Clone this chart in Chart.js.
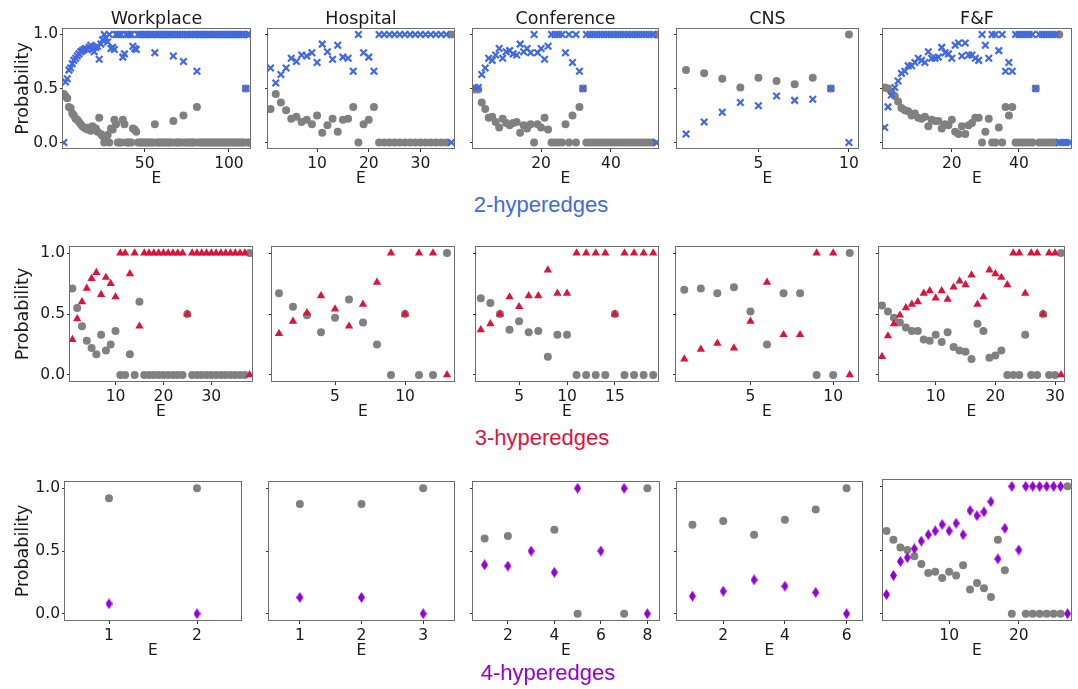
<!DOCTYPE html>
<html><head><meta charset="utf-8">
<script src="https://cdn.jsdelivr.net/npm/chart.js@4.4.1/dist/chart.umd.min.js"></script>
<style>
html,body{margin:0;padding:0;background:#fff;}
body{position:relative;width:1078px;height:689px;overflow:hidden;}
canvas{position:absolute;}
.t{position:absolute;white-space:nowrap;text-align:center;width:300px;}
.col{font-family:"DejaVu Sans";font-size:17.5px;line-height:20px;color:#1a1a1a;}
.rowl{font-family:"Liberation Sans";font-size:22px;line-height:24px;}
</style></head><body>
<script>
// ---------- titles ----------
const columnTitles = ["Workplace", "Hospital", "Conference", "CNS", "F&F"];
const rowTitles = ["2-hyperedges", "3-hyperedges", "4-hyperedges"];
const rowColors = ["#4169E1", "#DC143C", "#9400D3"];
const yTicks = [0, 0.5, 1];

// ---------- 2-hyperedges ----------
const wp2E = [2,3,4,5,6,7,8,9,10,11,12,13,14,15,16,17,18,19,20,21,22,23,24,25,26,27,28,29,30,31,32,33,34,35,36,37,38,39,40,41,42,43,44,45,46,47,48,49,50,51,52,53,54,55,56,57,58,59,60,61,62,63,64,65,66,67,68,69,70,71,72,73,74,75,76,77,78,79,80,81,82,83,84,85,86,87,88,89,90,91,92,93,94,95,96,97,98,99,100,101,102,103,104,105,106,107,108,109,110,111,112];
const wp2Blue = [0,.56,.59,.67,.69,.73,.76,.78,.80,.82,.84,
 .85,.86,.87,.86,.88,.90,.86,.84,.88,.89,.77,.91,.95,
 1,.97,.93,1,.87,.88,.86,1,1,1,1,.79,.82,1,1,1,1,.89,.87,.86,
 1,1,1,1,1,1,1,1,1,1,
 .83,
 1,1,1,1,1,1,1,1,1,1,
 .80,
 1,1,1,1,1,
 .75,
 1,1,1,1,1,1,1,
 .66,
 1,1,1,1,1,1,1,1,1,1,1,1,1,1,1,1,1,1,1,1,1,1,1,1,1,1,1,1,
 .5,1,1];
const wp2Gray = [.45,.43,.41,.33,.32,.27,.25,.22,.21,.19,.17,
 .15,.14,.13,.12,.14,.11,.15,.12,.13,.10,.23,.08,.06,
 0,.03,.07,0,.13,.12,.21,.17,0,0,0,.21,.17,0,0,0,0,.13,.12,.10,
 0,0,0,0,0,0,0,0,0,0,
 .17,
 0,0,0,0,0,0,0,0,0,0,
 .20,
 0,0,0,0,0,
 .25,
 0,0,0,0,0,0,0,
 .33,
 0,0,0,0,0,0,0,0,0,0,0,0,0,0,0,0,0,0,0,0,0,0,0,0,0,0,0,0,
 .5,0,0];
const wp2Ticks = [50, 100];

const ho2E = [1,2,3,4,5,6,7,8,9,10,11,12,13,14,15,16,17,18,19,20,21,22,23,24,25,26,27,28,29,30,31,32,33,34,35,36];
const ho2Blue = [.69,.55,.63,.69,.78,.75,.81,.80,.83,.74,.91,.84,.77,.90,.79,.78,.66,1,.83,.79,.66,1,1,1,1,1,1,1,1,1,1,1,1,1,1,0];
const ho2Gray = [.31,.45,.37,.30,.22,.24,.19,.21,.17,.25,.09,.16,.22,.10,.21,.22,.33,0,.17,.21,.33,0,0,0,0,0,0,0,0,0,0,0,0,0,0,1];
const ho2Ticks = [10, 20, 30];

const co2E = [1,2,3,4,5,6,7,8,9,10,11,12,13,14,15,16,17,18,19,20,21,22,23,24,25,26,27,28,29,30,31,32,33,34,35,36,37,38,39,40,41,42,43,44,45,46,47,48,49,50,51,52,53];
const co2Blue = [.51,.51,.63,.69,.78,.76,.81,.87,.78,.84,.85,.82,.81,.91,.84,.87,.83,1,.83,.87,.77,.89,
 1,1,1,1,.83,1,.74,1,.66,.5,
 1,1,1,1,1,1,1,1,1,1,1,1,1,1,1,1,1,1,1,1,0];
const co2Gray = [.49,.49,.37,.31,.23,.24,.19,.14,.22,.18,.16,.18,.19,.09,.16,.13,.17,0,.17,.14,.23,.12,
 0,0,0,0,.17,0,.25,0,.33,.5,
 0,0,0,0,0,0,0,0,0,0,0,0,0,0,0,0,0,0,0,0,1];
const co2Ticks = [20, 40];

const cns2E = [1,2,3,4,5,6,7,8,9,10];
const cns2Blue = [.08,.19,.28,.37,.34,.43,.39,.40,.5,0];
const cns2Gray = [.67,.64,.59,.51,.60,.57,.54,.60,.5,1];
const cns2Ticks = [5, 10];

const ff2E = [0,1,2,3,4,5,6,7,8,9,10,11,12,13,14,15,16,17,18,19,20,21,22,23,24,25,26,27,28,29,30,31,32,33,34,35,36,37,38,39,40,41,42,43,44,45,46,47,48,49,50,51,52,53,54,55];
const ff2Blue = [.14,.33,.44,.51,.57,.64,.66,.71,.71,.74,.78,.76,.74,.84,.78,.78,.79,.88,.83,.82,.78,.90,.92,.80,.92,.81,.81,.78,.76,
 1,.90,.78,1,1,.85,1,.66,.74,.66,
 1,1,1,1,1,1,.5,1,1,1,1,1,1,0,0,0,0];
const ff2Gray = [.51,.50,.47,.43,.38,.32,.30,.29,.25,.27,.23,.22,.24,.15,.21,.20,.20,.13,.17,.16,.21,.10,.08,.15,.08,.16,.18,.23,.23,
 0,.10,.22,0,0,.14,0,.33,.25,.33,
 0,0,0,0,0,0,.5,0,0,0,0,0,0,1,null,null,null];
const ff2Ticks = [20, 40];

// ---------- 3-hyperedges ----------
const wp3E = [1,2,3,4,5,6,7,8,9,10,11,12,13,14,15,16,17,18,19,20,21,22,23,24,25,26,27,28,29,30,31,32,33,34,35,36,37,38];
const wp3Red = [.29,.46,.60,.71,.79,.84,.66,.80,.75,.64,1,1,.83,1,.40,1,1,1,1,1,1,1,1,1,.5,1,1,1,1,1,1,1,1,1,1,1,1,0];
const wp3Gray = [.71,.55,.40,.28,.22,.17,.33,.20,.25,.36,0,0,.17,0,.60,0,0,0,0,0,0,0,0,0,.5,0,0,0,0,0,0,0,0,0,0,0,0,1];
const wp3Ticks = [10, 20, 30];

const ho3E = [1,2,3,4,5,6,7,8,9,10,11,12,13];
const ho3Red = [.34,.44,.51,.65,.54,.40,.58,.76,1,.5,1,1,0];
const ho3Gray = [.67,.56,.49,.35,.47,.62,.43,.25,0,.5,0,0,1];
const ho3Ticks = [5, 10];

const co3E = [1,2,3,4,5,6,7,8,9,10,11,12,13,14,15,16,17,18,19];
const co3Red = [.37,.42,.50,.64,.56,.65,.65,.86,.67,.67,1,1,1,1,.5,1,1,1,1];
const co3Gray = [.63,.59,.50,.37,.44,.35,.36,.15,.33,.33,0,0,0,0,.5,0,0,0,0];
const co3Ticks = [5, 10, 15];

const cns3E = [1,2,3,4,5,6,7,8,9,10,11];
const cns3Red = [.13,.21,.26,.22,.44,.76,.33,.33,1,1,0];
const cns3Gray = [.70,.71,.67,.72,.52,.25,.67,.67,0,0,1];
const cns3Ticks = [5, 10];

const ff3E = [1,2,3,4,5,6,7,8,9,10,11,12,13,14,15,16,17,18,19,20,21,22,23,24,25,26,27,28,29,30,31];
const ff3Red = [.15,.32,.42,.49,.55,.58,.60,.67,.69,.63,.69,.62,.72,.77,.74,.82,.58,.64,.86,.83,.80,.74,1,1,.67,1,1,.5,1,1,0];
const ff3Gray = [.57,.52,.47,.43,.39,.36,.36,.29,.28,.33,.27,.35,.23,.20,.19,.13,.42,.36,.14,.16,.20,0,0,0,.33,0,0,.5,0,0,1];
const ff3Ticks = [10, 20, 30];

// ---------- 4-hyperedges ----------
const wp4E = [1,2];
const wp4Purple = [.08,0];
const wp4Gray = [.92,1];
const wp4Ticks = [1, 2];

const ho4E = [1,2,3];
const ho4Purple = [.13,.13,0];
const ho4Gray = [.875,.875,1];
const ho4Ticks = [1, 2, 3];

const co4E = [1,2,3,4,5,6,7,8];
const co4Purple = [.39,.38,.5,.33,1,.5,1,0];
const co4Gray = [.60,.62,null,.67,0,null,0,1];
const co4Ticks = [2, 4, 6, 8];

const cns4E = [1,2,3,4,5,6];
const cns4Purple = [.14,.18,.27,.22,.17,0];
const cns4Gray = [.71,.74,.63,.75,.83,1];
const cns4Ticks = [2, 4, 6];

const ff4E = [1,2,3,4,5,6,7,8,9,10,11,12,13,14,15,16,17,18,19,20,21,22,23,24,25,26,27];
const ff4Purple = [.15,.30,.41,.44,.51,.57,.62,.65,.70,.65,.71,.62,.81,.77,.80,.88,.43,.67,1,.5,1,1,1,1,1,1,0];
const ff4Gray = [.65,.58,.52,.50,.45,.39,.32,.33,.28,.33,.30,.38,.19,.24,.20,.13,.58,.34,0,null,0,0,0,0,0,0,1];
const ff4Ticks = [10, 20];

// ---------- layout (panel boxes) ----------
const panels = [
 {r:0,c:0,L:63,R:250,T:29,B:148,xmin:1.5,xmax:112.5,xt:wp2Ticks,E:wp2E,a:wp2Blue,g:wp2Gray},
 {r:0,c:1,L:268,R:454,T:29,B:148,xmin:0.5,xmax:36.5,xt:ho2Ticks,E:ho2E,a:ho2Blue,g:ho2Gray},
 {r:0,c:2,L:473,R:658,T:29,B:148,xmin:0.5,xmax:53.5,xt:co2Ticks,E:co2E,a:co2Blue,g:co2Gray},
 {r:0,c:3,L:677,R:858,T:29,B:148,xmin:0.5,xmax:10.5,xt:cns2Ticks,E:cns2E,a:cns2Blue,g:cns2Gray},
 {r:0,c:4,L:883,R:1071,T:29,B:148,xmin:-0.5,xmax:55.5,xt:ff2Ticks,E:ff2E,a:ff2Blue,g:ff2Gray},
 {r:1,c:0,L:70,R:252,T:247,B:381,xmin:0.5,xmax:38.5,xt:wp3Ticks,E:wp3E,a:wp3Red,g:wp3Gray},
 {r:1,c:1,L:272,R:454,T:247,B:381,xmin:0.5,xmax:13.5,xt:ho3Ticks,E:ho3E,a:ho3Red,g:ho3Gray},
 {r:1,c:2,L:476,R:658,T:247,B:381,xmin:0.5,xmax:19.5,xt:co3Ticks,E:co3E,a:co3Red,g:co3Gray},
 {r:1,c:3,L:676,R:858,T:247,B:381,xmin:0.5,xmax:11.5,xt:cns3Ticks,E:cns3E,a:cns3Red,g:cns3Gray},
 {r:1,c:4,L:879,R:1064,T:247,B:381,xmin:0.5,xmax:31.5,xt:ff3Ticks,E:ff3E,a:ff3Red,g:ff3Gray},
 {r:2,c:0,L:65,R:241,T:482,B:620,xmin:0.5,xmax:2.5,xt:wp4Ticks,E:wp4E,a:wp4Purple,g:wp4Gray},
 {r:2,c:1,L:269,R:454,T:482,B:620,xmin:0.5,xmax:3.5,xt:ho4Ticks,E:ho4E,a:ho4Purple,g:ho4Gray},
 {r:2,c:2,L:473,R:659,T:482,B:620,xmin:0.5,xmax:8.5,xt:co4Ticks,E:co4E,a:co4Purple,g:co4Gray},
 {r:2,c:3,L:677,R:862,T:482,B:620,xmin:0.5,xmax:6.5,xt:cns4Ticks,E:cns4E,a:cns4Purple,g:cns4Gray},
 {r:2,c:4,L:883,R:1071,T:480,B:620,xmin:0.5,xmax:27.5,xt:ff4Ticks,E:ff4E,a:ff4Purple,g:ff4Gray}
];

function diamondImg(color, w, h) {
  const cv = document.createElement('canvas');
  cv.width = w; cv.height = h;
  const g = cv.getContext('2d');
  g.fillStyle = color;
  g.beginPath();
  g.moveTo(w / 2, 0); g.lineTo(w, h / 2); g.lineTo(w / 2, h); g.lineTo(0, h / 2);
  g.closePath(); g.fill();
  return cv;
}
const diamond = diamondImg(rowColors[2], 7, 11);

const boxPlugin = {
  id: 'box',
  afterDatasetsDraw(chart) {
    const a = chart.chartArea, ctx = chart.ctx;
    ctx.save();
    ctx.strokeStyle = '#6e6e6e';
    ctx.lineWidth = 1;
    const l = Math.round(a.left) - 0.5, t = Math.round(a.top) - 0.5;
    const r = Math.round(a.right) + 0.5, b = Math.round(a.bottom) + 0.5;
    ctx.strokeRect(l, t, r - l, b - t);
    ctx.restore();
  }
};

const FONT = 'DejaVu Sans';
const TXT = '#1a1a1a';

function coloredStyle(r) {
  if (r === 0) return {pointStyle: 'crossRot', pointRadius: 4.6, pointBorderWidth: 2.2, pointBorderColor: rowColors[0], pointBackgroundColor: rowColors[0]};
  if (r === 1) return {pointStyle: 'triangle', pointRadius: 4.8, pointBorderWidth: 0, pointBorderColor: rowColors[1], pointBackgroundColor: rowColors[1]};
  return {pointStyle: diamond, pointRadius: 5.5, pointBorderWidth: 0, pointBorderColor: rowColors[2], pointBackgroundColor: rowColors[2]};
}

function makePanel(p) {
  const first = p.c === 0;
  const padL = first ? p.L : 14, padT = 10, padR = 10, padB = 44;
  const W = p.R - p.L + padL + padR, H = p.B - p.T + padT + padB;
  const cv = document.createElement('canvas');
  cv.width = W; cv.height = H;
  cv.style.left = (p.L - padL) + 'px';
  cv.style.top = (p.T - padT) + 'px';
  cv.style.width = W + 'px'; cv.style.height = H + 'px';
  document.body.appendChild(cv);

  const colData = [], grayData = [];
  p.E.forEach((e, i) => {
    if (p.a[i] !== null) colData.push({x: e, y: p.a[i]});
    if (p.g[i] !== null) grayData.push({x: e, y: p.g[i]});
  });

  new Chart(cv, {
    type: 'scatter',
    data: {datasets: [
      Object.assign({data: colData, clip: 0}, coloredStyle(p.r)),
      {data: grayData, clip: 0, pointStyle: 'circle', pointRadius: 4, pointBorderWidth: 0, pointBackgroundColor: '#808080', pointBorderColor: '#808080'}
    ]},
    options: {
      responsive: false, animation: false, devicePixelRatio: 1,
      events: [],
      layout: {autoPadding: false, padding: {left: 0, top: padT, right: padR, bottom: 0}},
      plugins: {legend: {display: false}, tooltip: {enabled: false}},
      scales: {
        x: {
          type: 'linear', min: p.xmin, max: p.xmax,
          afterFit(s) { s.height = padB; s.paddingLeft = 0; s.paddingRight = 0; },
          afterBuildTicks(s) { s.ticks = p.xt.map(v => ({value: v})); },
          ticks: {autoSkip: false, maxRotation: 0, padding: 3, color: TXT, font: {family: FONT, size: 15.5}, callback: v => String(v)},
          grid: {display: true, drawOnChartArea: false, drawTicks: true, tickLength: 4, color: '#333', lineWidth: 1},
          border: {display: false},
          title: {display: true, text: 'E', color: TXT, font: {family: FONT, size: 15.5, lineHeight: 1.2}, padding: {top: 0, bottom: 3.7}}
        },
        y: {
          type: 'linear', min: -0.05, max: 1.05,
          afterFit(s) { s.width = padL; s.paddingTop = 0; s.paddingBottom = 0; },
          afterBuildTicks(s) { s.ticks = yTicks.map(v => ({value: v})); },
          ticks: {display: first, autoSkip: false, padding: 2, color: TXT, font: {family: FONT, size: 15.5}, callback: v => v.toFixed(1)},
          grid: {display: true, drawOnChartArea: false, drawTicks: true, tickLength: 3, color: '#333', lineWidth: 1},
          border: {display: false},
          title: {display: first, text: 'Probability', color: TXT, font: {family: FONT, size: 17.5, lineHeight: 1.2}, padding: {top: 12.5, bottom: 0}}
        }
      }
    },
    plugins: [boxPlugin]
  });
}

panels.forEach(makePanel);

// column titles
panels.filter(p => p.r === 0).forEach(p => {
  const d = document.createElement('div');
  d.className = 't col';
  d.textContent = columnTitles[p.c];
  d.style.left = ((p.L + p.R) / 2 - 150) + 'px';
  d.style.top = '8px';
  document.body.appendChild(d);
});

// row labels
const rowCenters = [541, 542, 548];
const rowBaselines = [213, 446, 681];
rowTitles.forEach((t, i) => {
  const d = document.createElement('div');
  d.className = 't rowl';
  d.textContent = t;
  d.style.color = rowColors[i];
  d.style.left = (rowCenters[i] - 150) + 'px';
  d.style.top = (rowBaselines[i] - 19.9) + 'px';
  document.body.appendChild(d);
});
</script>
</body></html>
